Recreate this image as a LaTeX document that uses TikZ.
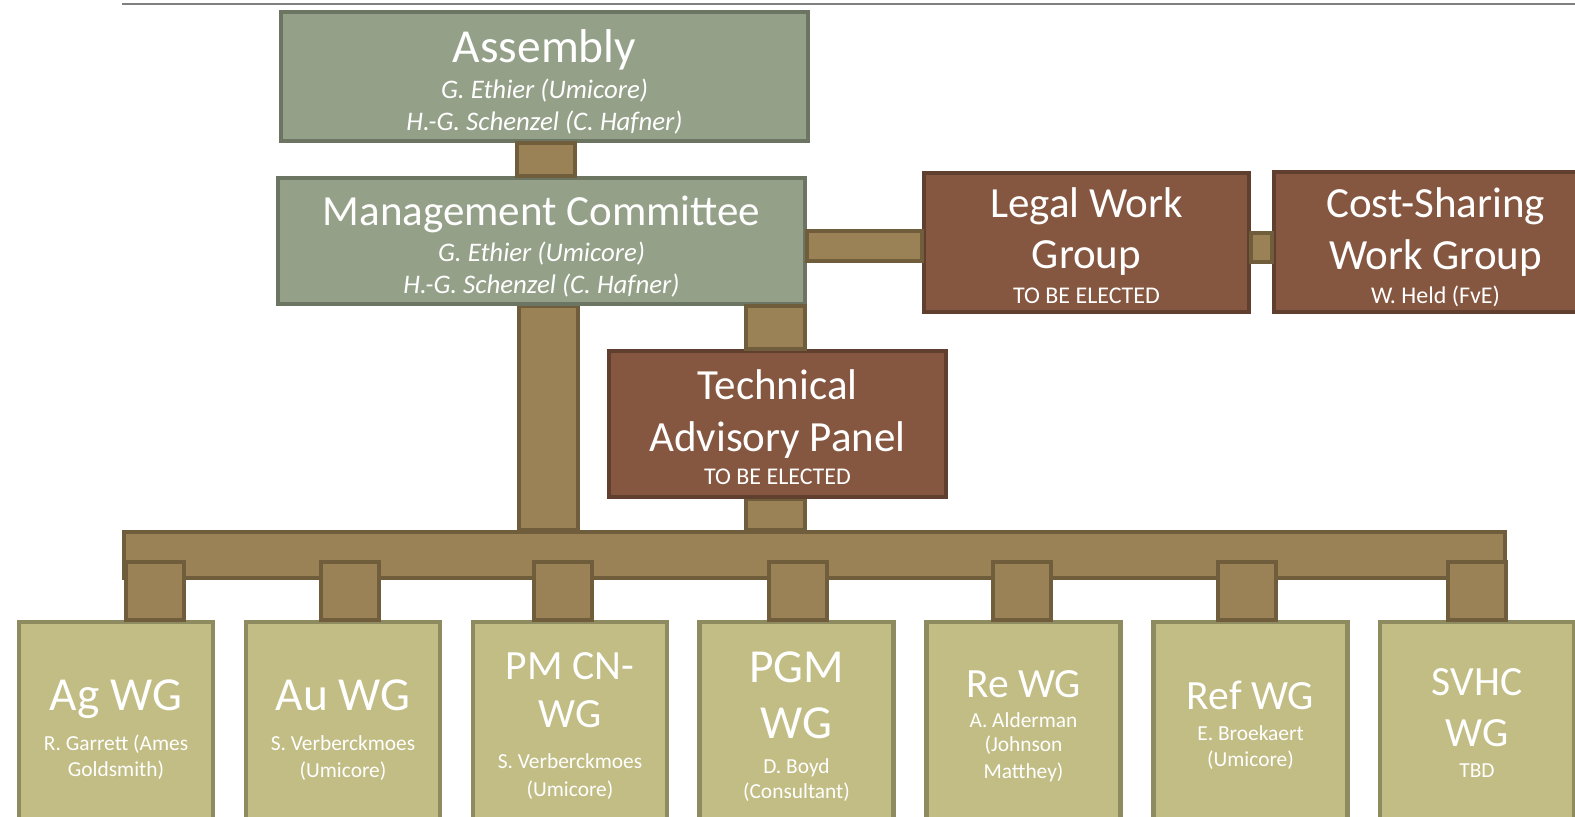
\documentclass[tikz,border=0pt]{standalone}
\usepackage{fontspec}
\setmainfont{Carlito}
\usetikzlibrary{calc, backgrounds}
\definecolor{grnfill}{RGB}{148,160,136}
\definecolor{grnline}{RGB}{107,117,98}
\definecolor{brnfill}{RGB}{133,86,64}
\definecolor{brnline}{RGB}{96,63,46}
\definecolor{tanfill}{RGB}{155,130,86}
\definecolor{tanline}{RGB}{112,93,60}
\definecolor{wgfill}{RGB}{194,189,132}
\definecolor{wgline}{RGB}{143,139,96}
\newcommand{\ttl}{\fontsize{21.5}{25}\selectfont}
\newcommand{\ttlb}{\fontsize{23.7}{25}\selectfont}
\newcommand{\ttls}{\fontsize{20.8}{25}\selectfont}
\newcommand{\nms}{\fontsize{13.4}{16}\selectfont\itshape}
\newcommand{\sml}{\fontsize{12}{14}\selectfont}
\newcommand{\wgn}{\fontsize{10.7}{13}\selectfont}

\begin{document}
\begin{tikzpicture}[x=0.5pt, y=-0.5pt,
    box/.style={rectangle, draw, line width=2.2pt, inner sep=0pt},
    grnbox/.style={box, fill=grnfill, draw=grnline, minimum width=263.5pt},
    brnbox/.style={box, fill=brnfill, draw=brnline},
    wgbox/.style={box, fill=wgfill, draw=wgline, minimum width=97pt, minimum height=106pt},
    boxtext/.style={inner sep=0pt, align=center, text=white, font=\ttl},
    link/.style={fill=tanfill, draw=tanline, line width=2.2pt}]
    \useasboundingbox (0,0) rectangle (1575,816);
    \draw [gray, line width=1pt] (122,4) -- (1575,4);

    % boxes
    \node [grnbox, minimum height=64.5pt] (asm) at (544.5, 76.5) {};
    \node [grnbox, minimum height=63pt] (mc) at (541.5, 241) {};
    \node [brnbox, minimum width=162.5pt, minimum height=69.5pt] (legal) at (1086.5, 242.5) {};
    \node [brnbox, minimum width=162pt, minimum height=70pt] (cost) at (1436, 242) {};
    \node [brnbox, minimum width=168.5pt, minimum height=73pt] (tap) at (777.5, 424) {};
    \node [rectangle, link, minimum width=690.3pt, minimum height=22.8pt, inner sep=0pt] (bar) at (814.5, 555) {};
    \node [wgbox] (ag) at (116, 728) {};
    \node [wgbox] (au) at (343, 728) {};
    \node [wgbox] (pm) at (570, 728) {};
    \node [wgbox] (pgm) at (796.5, 728) {};
    \node [wgbox] (re) at (1023.5, 728) {};
    \node [wgbox] (ref) at (1250.5, 728) {};
    \node [wgbox] (svhc) at (1477, 728) {};

    % texts
    \node [boxtext] (asmtext) at (544.5, 81.5) {{\ttlb Assembly}\\[-6.7pt]{\nms G. Ethier (Umicore)}\\[-9.3pt]{\nms H.-G. Schenzel (C. Hafner)}};
    \node [boxtext] (mctext) at (541.5, 246.3) {Management Committee\\[-6.7pt]{\nms G. Ethier (Umicore)}\\[-9.2pt]{\nms H.-G. Schenzel (C. Hafner)}};
    \node [boxtext] (legaltext) at (1086.5, 245.8) {Legal Work\\[0.3pt]Group\\[-7.5pt]{\sml TO BE ELECTED}};
    \node [boxtext] (costtext) at (1435.5, 247) {Cost-Sharing\\[1.2pt]Work Group\\[-8.3pt]{\sml W. Held (FvE)}};
    \node [boxtext] (taptext) at (777.5, 427.5) {Technical\\[0.8pt]Advisory Panel\\[-8.3pt]{\sml TO BE ELECTED}};
    \node [boxtext] (agtext) at (116, 730) {{\ttlb Ag WG}\\[-5.3pt]{\wgn R. Garrett (Ames}\\[-11.7pt]{\wgn Goldsmith)}};
    \node [boxtext] (autext) at (343, 730.5) {{\ttlb Au WG}\\[-5.3pt]{\wgn S. Verberckmoes}\\[-11.2pt]{\wgn (Umicore)}};
    \node [boxtext] (pmtext) at (570, 725.8) {{\ttls PM CN-}\\[-0.8pt]{\ttls WG}\\[-4.5pt]{\wgn S. Verberckmoes}\\[-11.3pt]{\wgn (Umicore)}};
    \node [boxtext] (pgmtext) at (796.5, 726.7) {{\ttlb PGM}\\[3.3pt]{\ttlb WG}\\[-7.5pt]{\wgn D. Boyd}\\[-12.5pt]{\wgn (Consultant)}};
    \node [boxtext] (retext) at (1023.5, 726.2) {{\ttls Re WG}\\[-10pt]{\wgn A. Alderman}\\[-13pt]{\wgn (Johnson}\\[-11.7pt]{\wgn Matthey)}};
    \node [boxtext] (reftext) at (1250.5, 725.3) {{\ttls Ref WG}\\[-9.7pt]{\wgn E. Broekaert}\\[-12.2pt]{\wgn (Umicore)}};
    \node [boxtext] (svhctext) at (1477, 722.8) {{\ttls SVHC}\\[0.5pt]{\ttls WG}\\[-9.3pt]{\wgn TBD}};

    % connectors
    \draw [link] ($(asm.south)+(-27.5,0)$) rectangle ($(mc.north)+(33.5,0)$);
    \draw [link] ($(mc.east)+(0,-10)$) rectangle ($(legal.west)+(0,18.5)$);
    \draw [link] ($(legal.east)+(0,-9.5)$) rectangle ($(cost.west)+(0,20)$);
    \draw [link] ($(mc.south -| tap.north)+(-31.5,0)$) rectangle ($(tap.north)+(27.5,0)$);
    \begin{scope}[on background layer]
        \draw [link] ($(mc.south)+(-22.5,0)$) rectangle ($(bar.north -| mc.south)+(36.5,0)$);
        \draw [link] ($(tap.south)+(-31.5,0)$) rectangle ($(bar.north -| tap.south)+(27.5,0)$);
    \end{scope}

    \draw [link] ($(bar.south -| ag.north)+(10,-18)$) rectangle ($(ag.north)+(68,0)$);
    \draw [link] ($(bar.south -| au.north)+(-22,-18)$) rectangle ($(au.north)+(36,0)$);
    \draw [link] ($(bar.south -| pm.north)+(-36,-18)$) rectangle ($(pm.north)+(22,0)$);
    \draw [link] ($(bar.south -| pgm.north)+(-27.5,-18)$) rectangle ($(pgm.north)+(30.5,0)$);
    \draw [link] ($(bar.south -| re.north)+(-30.5,-18)$) rectangle ($(re.north)+(27.5,0)$);
    \draw [link] ($(bar.south -| ref.north)+(-32.5,-18)$) rectangle ($(ref.north)+(25.5,0)$);
    \draw [link] ($(bar.south -| svhc.north)+(-29,-18)$) rectangle ($(svhc.north)+(29,0)$);
\end{tikzpicture}
\end{document}
